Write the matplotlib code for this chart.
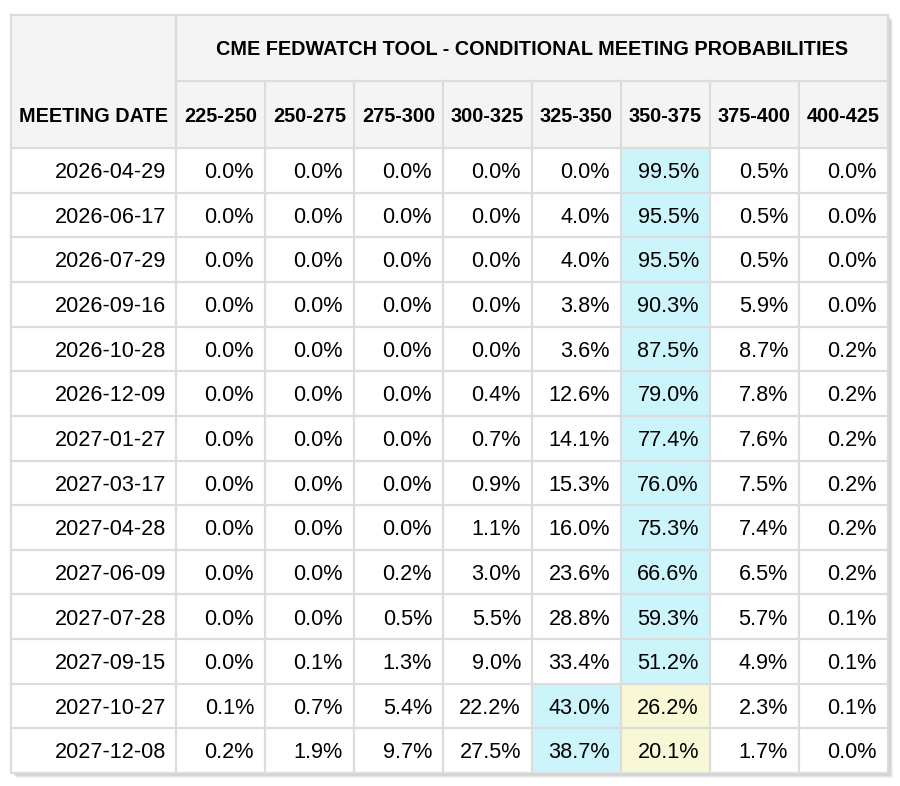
import matplotlib
matplotlib.use("Agg")
import matplotlib.pyplot as plt
from matplotlib.patches import Rectangle
import numpy as np

title = "CME FEDWATCH TOOL - CONDITIONAL MEETING PROBABILITIES"
first_header = "MEETING DATE"
ranges = ["225-250", "250-275", "275-300", "300-325", "325-350", "350-375", "375-400", "400-425"]
current_range = "350-375"
dates = ["2026-04-29", "2026-06-17", "2026-07-29", "2026-09-16", "2026-10-28", "2026-12-09",
         "2027-01-27", "2027-03-17", "2027-04-28", "2027-06-09", "2027-07-28", "2027-09-15",
         "2027-10-27", "2027-12-08"]
probs = [
    [0.0, 0.0, 0.0, 0.0, 0.0, 99.5, 0.5, 0.0],
    [0.0, 0.0, 0.0, 0.0, 4.0, 95.5, 0.5, 0.0],
    [0.0, 0.0, 0.0, 0.0, 4.0, 95.5, 0.5, 0.0],
    [0.0, 0.0, 0.0, 0.0, 3.8, 90.3, 5.9, 0.0],
    [0.0, 0.0, 0.0, 0.0, 3.6, 87.5, 8.7, 0.2],
    [0.0, 0.0, 0.0, 0.4, 12.6, 79.0, 7.8, 0.2],
    [0.0, 0.0, 0.0, 0.7, 14.1, 77.4, 7.6, 0.2],
    [0.0, 0.0, 0.0, 0.9, 15.3, 76.0, 7.5, 0.2],
    [0.0, 0.0, 0.0, 1.1, 16.0, 75.3, 7.4, 0.2],
    [0.0, 0.0, 0.2, 3.0, 23.6, 66.6, 6.5, 0.2],
    [0.0, 0.0, 0.5, 5.5, 28.8, 59.3, 5.7, 0.1],
    [0.0, 0.1, 1.3, 9.0, 33.4, 51.2, 4.9, 0.1],
    [0.1, 0.7, 5.4, 22.2, 43.0, 26.2, 2.3, 0.1],
    [0.2, 1.9, 9.7, 27.5, 38.7, 20.1, 1.7, 0.0],
]

W, H = 900, 786
fig = plt.figure(figsize=(W / 100, H / 100), dpi=100)
ax = fig.add_axes([0, 0, 1, 1])
ax.set_xlim(0, W)
ax.set_ylim(H, 0)
ax.axis("off")

FONT = "Liberation Sans"
TXT = "#000000"
left, top = 11, 15
first_w = 165
col_w = 89
h1, h2 = 66, 67
n_rows = len(dates)
bottom = 773
row_h = (bottom - top - h1 - h2) / n_rows
right = left + first_w + col_w * len(ranges)

header_bg = "#f4f4f4"
grid_c = "#dcdcdc"
blue = "#ccf4fb"
yellow = "#f8f8d6"

# shadow
for i, a in enumerate([0.05, 0.05, 0.05, 0.05]):
    off = i + 1
    ax.add_patch(Rectangle((left + off + 1, top + off + 1), right - left, bottom - top,
                           facecolor="black", alpha=a, edgecolor="none", zorder=0))

# background
ax.add_patch(Rectangle((left, top), right - left, bottom - top, facecolor="white", edgecolor="none", zorder=1))
ax.add_patch(Rectangle((left, top), right - left, h1 + h2, facecolor=header_bg, edgecolor="none", zorder=1))

data_top = top + h1 + h2
cur_idx = ranges.index(current_range)
arr = np.array(probs)
for r in range(n_rows):
    mx = int(np.argmax(arr[r]))
    for c in range(len(ranges)):
        color = None
        if c == mx:
            color = blue
        elif c == cur_idx:
            color = yellow
        if color:
            x0 = left + first_w + c * col_w
            y0 = data_top + r * row_h
            ax.add_patch(Rectangle((x0, y0), col_w, row_h, facecolor=color, edgecolor="none", zorder=2))

lw = 1.6
# horizontal lines
ys = [top, top + h1, data_top] + [data_top + (r + 1) * row_h for r in range(n_rows)]
for i, y in enumerate(ys):
    x_start = left if i != 1 else left + first_w
    ax.plot([x_start, right], [y, y], color=grid_c, lw=lw, zorder=3, solid_capstyle="projecting")
# vertical lines
ax.plot([left, left], [top, bottom], color=grid_c, lw=lw, zorder=3)
ax.plot([left + first_w, left + first_w], [top, bottom], color=grid_c, lw=lw, zorder=3)
for c in range(1, len(ranges)):
    x = left + first_w + c * col_w
    ax.plot([x, x], [top + h1, bottom], color=grid_c, lw=lw, zorder=3)
ax.plot([right, right], [top, bottom], color=grid_c, lw=lw, zorder=3)

hdr_fs = 14.3
data_fs = 15.6
px = 100 / 72
def baseline(center, fs):
    return center + fs * px * 0.716 / 2

# title
tc = top + h1 / 2
ax.text((left + first_w + right) / 2, baseline(tc, hdr_fs), title, fontsize=hdr_fs, fontweight="bold",
        family=FONT, ha="center", va="baseline", color=TXT, zorder=4)
hc = top + h1 + h2 / 2
ax.text(left + first_w / 2, baseline(hc, hdr_fs), first_header, fontsize=hdr_fs, fontweight="bold",
        family=FONT, ha="center", va="baseline", color=TXT, zorder=4)
for c, lab in enumerate(ranges):
    ax.text(left + first_w + (c + 0.5) * col_w, baseline(hc, hdr_fs), lab, fontsize=hdr_fs,
            fontweight="bold", family=FONT, ha="center", va="baseline", color=TXT, zorder=4)

for r, d in enumerate(dates):
    yc = data_top + (r + 0.5) * row_h
    ax.text(left + first_w - 10, baseline(yc, data_fs), d, fontsize=data_fs, family=FONT,
            ha="right", va="baseline", color=TXT, zorder=4)
    for c in range(len(ranges)):
        ax.text(left + first_w + (c + 1) * col_w - 11, baseline(yc, data_fs), f"{probs[r][c]:.1f}%",
                fontsize=data_fs, family=FONT, ha="right", va="baseline", color=TXT, zorder=4)

fig.savefig("out.png", dpi=100, facecolor="white")
